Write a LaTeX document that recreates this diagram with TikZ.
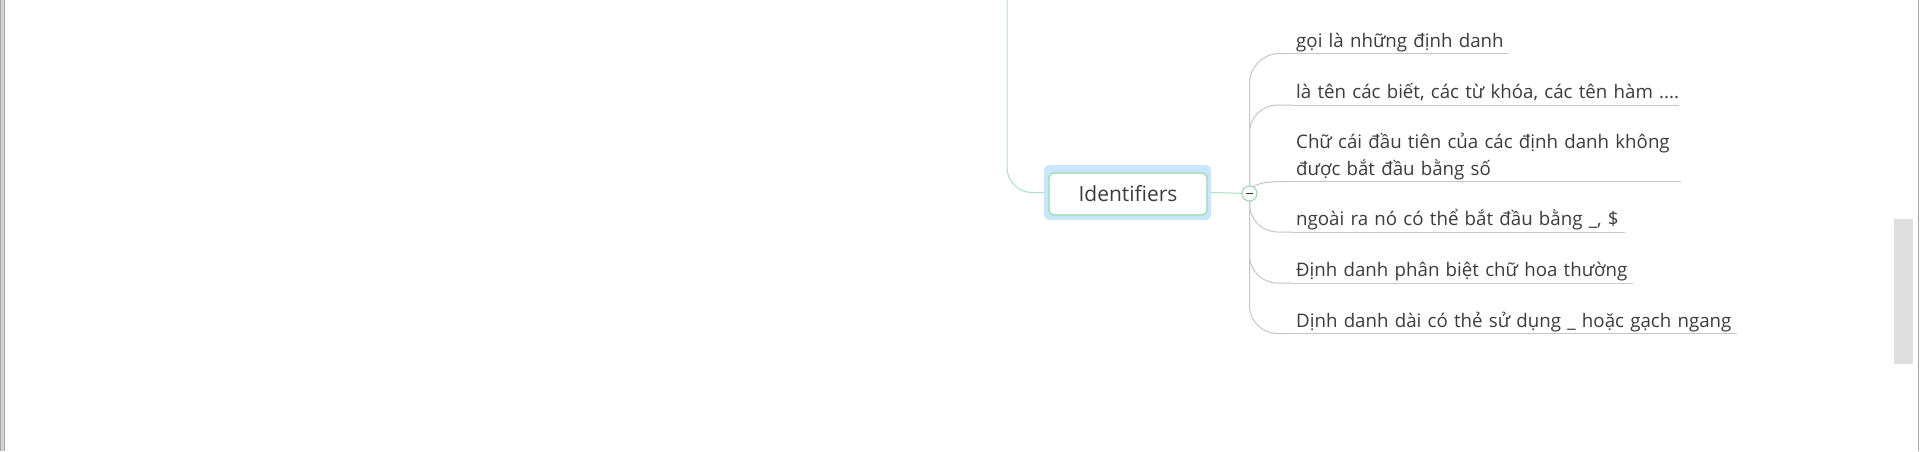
\documentclass[tikz,border=0pt]{standalone}
\usepackage{fontspec}
\setmainfont{Open Sans}
\usetikzlibrary{backgrounds}
\definecolor{trunk}{HTML}{C6C6C6}
\definecolor{mint}{HTML}{ADE0C4}
\definecolor{selblue}{HTML}{C9E7FC}
\definecolor{boxgreen}{HTML}{9CD8AE}
\definecolor{txt}{HTML}{3C3C3C}
\definecolor{framegray}{HTML}{A4A4A4}
\definecolor{framelight}{HTML}{D4D4D4}
\definecolor{scrollgray}{HTML}{DEDEDE}
\begin{document}
\begin{tikzpicture}[x=1pt,y=-1pt,
  selbox/.style={rectangle, rounded corners=5pt, fill=selblue, minimum width=167pt, minimum height=55pt, inner sep=0pt},
  topicbox/.style={rectangle, rounded corners=5pt, draw=boxgreen, line width=1.2pt, fill=white, minimum width=158pt, minimum height=42pt, inner sep=0pt, text=txt, font=\fontsize{21}{25}\selectfont},
  junction/.style={circle, draw=boxgreen, line width=1.1pt, fill=white, minimum size=15pt, inner sep=0pt},
  leaf/.style={anchor=south west, inner xsep=3pt, inner ysep=2.5pt, text depth=3.5pt, align=left, text=txt, font=\fontsize{18.7}{27}\selectfont,
     append after command={(\tikzlastnode.south west) edge[trunkline] (\tikzlastnode.south east)}},
  trunkline/.style={draw=trunk, line width=1pt},
  mintline/.style={draw=mint, line width=1pt},
]
\useasboundingbox (0,0) rectangle (1920,451);

% central topic
\node[selbox] (sel) at (1127.5,192.5) {};
\node[topicbox] (idf) at (1128,194) {Identifiers};
\coordinate (parent) at (1007,0);
\node[junction] (jn) at (1249.5,193.5) {};
\draw[txt, line width=1.6pt] ([xshift=-3.5pt]jn.center) -- ([xshift=3.5pt]jn.center);

% leaves
\node[leaf, text width=209pt] (t1) at (1293,53.5) {\mbox{gọi là những định danh}};
\node[leaf, text width=380pt] (t2) at (1293,105) {\mbox{là tên các biết, các từ khóa, các tên hàm ....}};
\node[leaf, text width=382pt, text depth=30.5pt] (t3) at (1293,181.5) {\mbox{Chữ cái đầu tiên của các định danh không}\\\mbox{được bắt đầu bằng số}};
\node[leaf, text width=326pt] (t4) at (1293,232) {\mbox{ngoài ra nó có thể bắt đầu bằng \_, \$}};
\node[leaf, text width=334pt] (t5) at (1293,283) {\mbox{Định danh phân biệt chữ hoa thường}};
\node[leaf, text width=438pt] (t6) at (1293,333.5) {\mbox{Dịnh danh dài có thẻ sử dụng \_ hoặc gạch ngang}};

\begin{scope}[on background layer]
  % window frame
  \fill[white] (0,0) rectangle (1920,451);
  \fill[framelight] (0,0) rectangle (5,451);
  \draw[framegray, line width=1pt] (0.5,0) -- (0.5,451);
  \draw[framegray, line width=1.2pt] (4.4,0) -- (4.4,451);
  \draw[framegray, line width=1pt] (1918,0) -- (1918,451);
  \fill[scrollgray] (1894,219) rectangle (1913,364);
  % connectors
  \draw[mintline, rounded corners=25pt] (parent) |- (sel.west);
  \draw[mintline] (sel.east) -- (jn.center);
  \draw[trunkline, rounded corners=30pt] (jn.center) |- (t1.south west);
  \draw[trunkline, rounded corners=28pt] (jn.center) |- (t2.south west);
  \draw[trunkline] (jn.center) .. controls (1252,183) and (1262,181.5) .. (t3.south west);
  \draw[trunkline, rounded corners=28pt] (jn.center) |- (t4.south west);
  \draw[trunkline, rounded corners=28pt] (jn.center) |- (t5.south west);
  \draw[trunkline, rounded corners=28pt] (jn.center) |- (t6.south west);
\end{scope}
\end{tikzpicture}
\end{document}
